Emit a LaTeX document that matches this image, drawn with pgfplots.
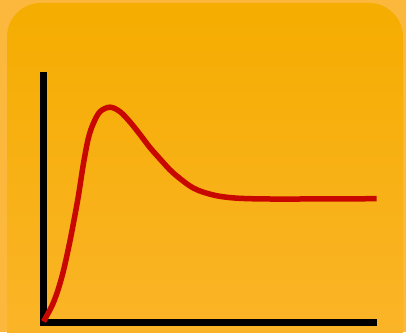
\documentclass[border=0pt]{standalone}
\usepackage{pgfplots}
\pgfplotsset{compat=1.18}

\definecolor{outerbg}{HTML}{FCB83C}
\definecolor{tiletop}{HTML}{F5AD00}
\definecolor{tilebot}{HTML}{FBB52C}
\definecolor{curvered}{HTML}{C80800}

\begin{document}
\begin{tikzpicture}[x=1pt,y=1pt]
  \useasboundingbox (0,0) rectangle (406,332);
  \clip (0,0) rectangle (406,332);
  \fill[outerbg] (0,0) rectangle (406,332);
  \shade[top color=tiletop, bottom color=tilebot, rounded corners=34pt]
    (7,-40) rectangle (403,329);

  \begin{axis}[
      at={(43.5pt,9.5pt)}, anchor=origin,
      x=1pt, y=1pt,
      xmin=0, xmax=333.5,
      ymin=0, ymax=247.5,
      axis x line=bottom,
      axis y line=left,
      axis line style={-, line width=6.5pt, black},
      y axis line style={line cap=rect},
      ticks=none,
      clip=false,
    ]
    \addplot[curvered, line width=5.5pt, smooth, tension=0.55] coordinates {
      (0,1) (4.5,9) (9.5,19) (14.5,32.5) (19.5,50) (24.5,72) (29.5,97)
      (34.8,126) (39.8,158) (44.8,184) (49.8,199) (56.5,210.8) (66.5,215.3)
      (76.5,210.8) (86.5,200.5) (96.5,188) (106,175.5) (117,163)
      (129.8,149.5) (149.8,134.5) (169.8,127.5) (189.8,124.6) (216.5,123.6)
      (256.5,123.5) (333.2,123.8)
    };
  \end{axis}
\end{tikzpicture}
\end{document}
